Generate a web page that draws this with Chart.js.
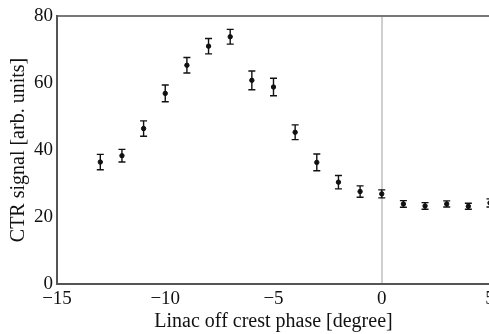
<!DOCTYPE html>
<html>
<head>
<meta charset="utf-8">
<script src="https://cdn.jsdelivr.net/npm/chart.js@4/dist/chart.umd.min.js"></script>
<style>
  html, body { margin: 0; padding: 0; background: #fff; overflow: hidden; }
  #wrap { width: 520px; height: 334px; }
</style>
</head>
<body>
<div id="wrap"><canvas id="ctrChart" width="520" height="334"></canvas></div>
<script>
// phase values [degree]
const phases = [-13, -12, -11, -10, -9, -8, -7, -6, -5, -4, -3, -2, -1, 0, 1, 2, 3, 4, 5];
// CTR signal [arb. units]
const signal = [36.4, 38.3, 46.4, 56.9, 65.3, 71.0, 73.8, 60.8, 58.8, 45.3, 36.3, 30.4, 27.6, 26.9, 23.9, 23.3, 23.9, 23.2, 24.2];
// half error bar
const errors = [2.3, 1.9, 2.3, 2.5, 2.3, 2.3, 2.2, 2.8, 2.6, 2.2, 2.5, 2.0, 1.7, 1.2, 1.0, 1.0, 0.9, 0.9, 1.2];

const xTicks = [-15, -10, -5, 0, 5];
const yTicks = [0, 20, 40, 60, 80];

const serif = "'Liberation Serif', 'DejaVu Serif', serif";

// error bars drawn from the scales
const errorBars = {
  id: "errorBars",
  afterDatasetsDraw(chart) {
    const ctx = chart.ctx;
    const xs = chart.scales.x;
    const ys = chart.scales.y;
    ctx.save();
    ctx.strokeStyle = "#111";
    ctx.lineWidth = 1.4;
    for (let i = 0; i < phases.length; i++) {
      const px = xs.getPixelForValue(phases[i]);
      const top = ys.getPixelForValue(signal[i] + errors[i]);
      const bot = ys.getPixelForValue(signal[i] - errors[i]);
      ctx.beginPath();
      ctx.moveTo(px, top);
      ctx.lineTo(px, bot);
      ctx.moveTo(px - 3.5, top);
      ctx.lineTo(px + 3.5, top);
      ctx.moveTo(px - 3.5, bot);
      ctx.lineTo(px + 3.5, bot);
      ctx.stroke();
    }
    ctx.restore();
  },
};

new Chart(document.getElementById("ctrChart"), {
  type: "scatter",
  data: {
    datasets: [
      {
        label: "CTR",
        data: phases.map((p, i) => ({ x: p, y: signal[i] })),
        backgroundColor: "#111",
        borderColor: "#111",
        pointRadius: 2.2,
        pointHoverRadius: 2.2,
      },
    ],
  },
  options: {
    responsive: false,
    animation: false,
    layout: { padding: { left: 7, top: 16, right: 30, bottom: 0 } },
    plugins: { legend: { display: false }, tooltip: { enabled: false } },
    scales: {
      x: {
        type: "linear",
        min: -15,
        max: 5,
        afterBuildTicks: (s) => { s.ticks = xTicks.map((v) => ({ value: v })); },
        afterFit: (s) => { s.height = 50; },
        border: { display: true, color: "#555", width: 2 },
        grid: {
          drawTicks: false,
          lineWidth: 2,
          color: (c) => (c.tick && c.tick.value === 0 ? "#cfcfcf" : "rgba(0,0,0,0)"),
        },
        ticks: {
          color: "#111",
          padding: 4,
          font: { family: serif, size: 19 },
          callback: (v) => String(v).replace("-", "\u2212"),
        },
        title: {
          display: true,
          text: "Linac off crest phase [degree]",
          color: "#111",
          font: { family: serif, size: 20 },
          padding: { top: 0, bottom: 0 },
        },
      },
      y: {
        min: 0,
        max: 80,
        afterBuildTicks: (s) => { s.ticks = yTicks.map((v) => ({ value: v })); },
        afterFit: (s) => { s.width = 50; },
        border: { display: true, color: "#555", width: 2 },
        grid: {
          drawTicks: false,
          lineWidth: 2,
          color: (c) => (c.tick && c.tick.value === 80 ? "#777" : "rgba(0,0,0,0)"),
        },
        ticks: {
          color: "#111",
          padding: 4,
          font: { family: serif, size: 19 },
        },
        title: {
          display: true,
          text: "CTR signal [arb. units]",
          color: "#111",
          font: { family: serif, size: 20 },
          padding: { top: 0, bottom: 0 },
        },
      },
    },
  },
  plugins: [errorBars],
});
</script>
</body>
</html>
